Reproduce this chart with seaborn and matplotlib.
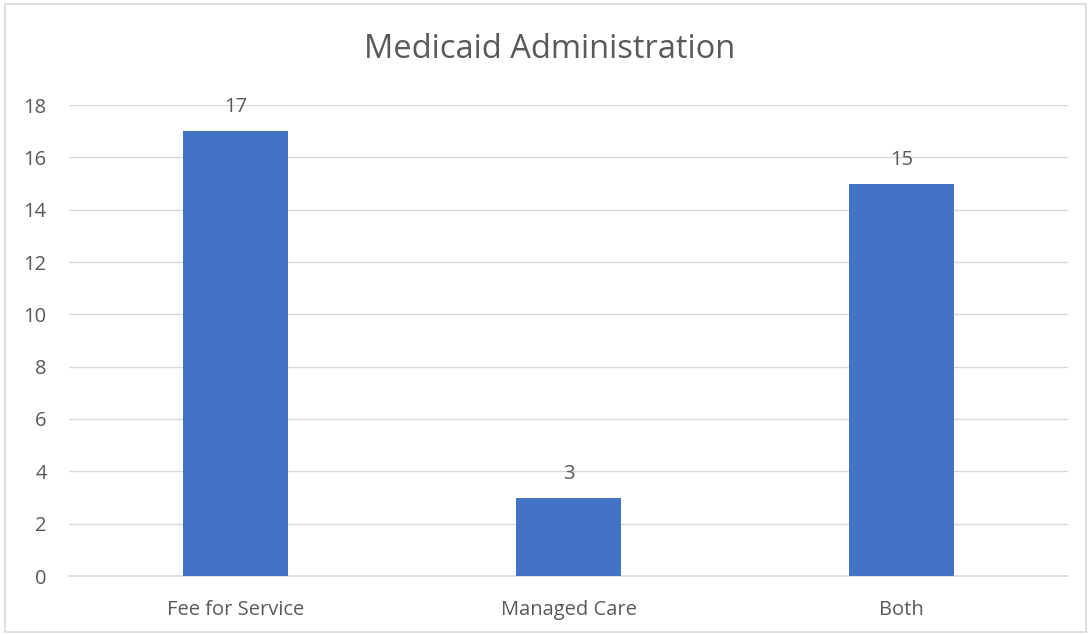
import matplotlib
matplotlib.use("Agg")
import matplotlib.pyplot as plt
import seaborn as sns
import pandas as pd
from matplotlib.patches import Rectangle

categories = ["Fee for Service", "Managed Care", "Both"]
values = [17, 3, 15]
yticks = [0, 2, 4, 6, 8, 10, 12, 14, 16, 18]
title = "Medicaid Administration"

sns.set_theme(style="white")
plt.rcParams['font.family'] = ['Open Sans', 'DejaVu Sans']

text_color = "#595959"
grid_color = "#D9D9D9"
bar_color = "#4472C4"

fig = plt.figure(figsize=(10.91, 6.34), dpi=100)
ax = fig.add_axes([69/1091, 1-576/634, (1068-69)/1091, (576-105)/634])

df = pd.DataFrame({"cat": categories, "val": values})
sns.barplot(data=df, x="cat", y="val", color=bar_color, width=0.315,
            saturation=1, ax=ax, zorder=3, linewidth=0)

ax.set_ylim(0, 18)
ax.set_xlim(-0.5, len(categories) - 0.5)
ax.set_yticks(yticks)
ax.set_yticklabels([str(t) for t in yticks], color=text_color, fontsize=14.5)
ax.tick_params(axis='y', length=0, pad=16)
ax.tick_params(axis='x', length=0, pad=17, labelsize=14.5, labelcolor=text_color)
ax.set_xlabel("")
ax.set_ylabel("")
for s in ["top", "right", "left"]:
    ax.spines[s].set_visible(False)
ax.spines["bottom"].set_color(grid_color)
ax.spines["bottom"].set_linewidth(1.2)
ax.grid(axis='y', color=grid_color, linewidth=1.0, zorder=0)
ax.set_axisbelow(True)

for i, v in enumerate(values):
    ax.annotate(str(v), (i, v), xytext=(0, 10), textcoords="offset points",
                ha="center", va="bottom", fontsize=14.5, color=text_color)

fig.text(0.504, 1-50/634, title, ha="center", va="center", fontsize=23.5, color=text_color)

fig.patches.append(Rectangle((5/1091, 2/634), 1 - 10/1091, 1 - 6/634, transform=fig.transFigure,
                             fill=False, edgecolor=grid_color, linewidth=1.2))

fig.savefig("out.png", dpi=100, facecolor="white")
